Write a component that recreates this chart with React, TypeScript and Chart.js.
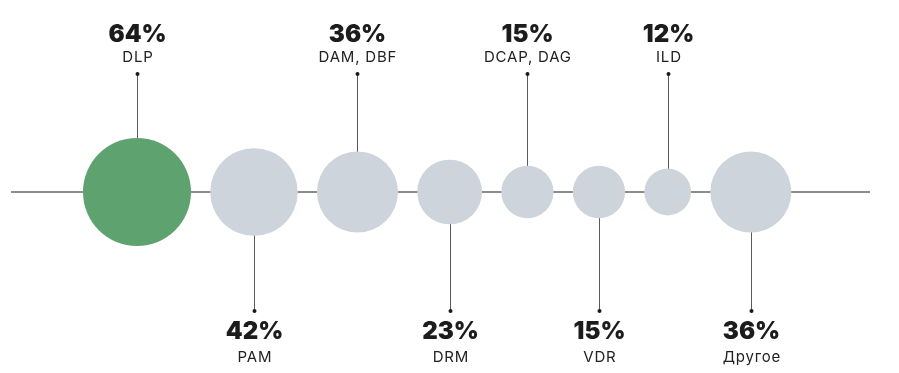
import React, { useEffect, useRef } from "react";
import { Chart, registerables } from "chart.js";

Chart.register(...registerables);

const categories = ["DLP", "PAM", "DAM, DBF", "DRM", "DCAP, DAG", "VDR", "ILD", "Другое"];
const shares = [64, 42, 36, 23, 15, 15, 12, 36];
const highlighted = ["DLP"];

const W = 899;
const H = 373;
const AXIS_Y = 192; // pixel row of the baseline
const RADIUS_K = 6.75;
const GAP = 19.25;
const FIRST_LEFT = 83;
const LINE_START = 11;
const LINE_END = 870;

const GREEN = "#5ea26f";
const GRAY = "#cdd4dc";
const LINE = "#5a5a5a";

const radii = shares.map((v) => RADIUS_K * Math.sqrt(v));
const xs: number[] = [];
radii.forEach((r, i) => {
  if (i === 0) xs.push(FIRST_LEFT + r);
  else xs.push(xs[i - 1] + radii[i - 1] + GAP + r);
});

const labelPlugin = {
  id: "bubbleLabels",
  beforeDatasetsDraw(chart: any) {
    const { ctx, scales } = chart;
    const y0 = scales.y.getPixelForValue(0);
    ctx.save();
    ctx.strokeStyle = "#666666";
    ctx.lineWidth = 1.4;
    ctx.beginPath();
    ctx.moveTo(scales.x.getPixelForValue(LINE_START), y0);
    ctx.lineTo(scales.x.getPixelForValue(LINE_END), y0);
    ctx.stroke();

    const meta = chart.getDatasetMeta(0);
    meta.data.forEach((el: any, i: number) => {
      const top = i % 2 === 0;
      const x = Math.round(el.x) + 0.5;
      const dotY = top ? 74 : 311;
      ctx.strokeStyle = LINE;
      ctx.lineWidth = 1;
      ctx.beginPath();
      ctx.moveTo(x, dotY);
      ctx.lineTo(x, el.y);
      ctx.stroke();
      ctx.fillStyle = "#1a1a1a";
      ctx.beginPath();
      ctx.arc(x, dotY, 2, 0, Math.PI * 2);
      ctx.fill();

      ctx.textAlign = "center";
      ctx.textBaseline = "alphabetic";
      ctx.fillStyle = "#1c1c1c";
      ctx.font = "900 24px Inter";
      (ctx as any).letterSpacing = "0px";
      ctx.fillText(shares[i] + "%", x, top ? 42 : 339);
      ctx.fillStyle = "#222222";
      ctx.font = "400 15px Inter";
      (ctx as any).letterSpacing = "0.8px";
      ctx.fillText(categories[i], x + 0.4, top ? 62 : 362);
      (ctx as any).letterSpacing = "0px";
    });
    ctx.restore();
  },
};

export default function App() {
  const ref = useRef<HTMLCanvasElement>(null);
  useEffect(() => {
    if (!ref.current) return;
    const chart = new Chart(ref.current, {
      type: "bubble",
      data: {
        datasets: [
          {
            data: shares.map((v, i) => ({ x: xs[i], y: 0, r: radii[i] })),
            backgroundColor: categories.map((c) => (highlighted.includes(c) ? GREEN : GRAY)),
            borderWidth: 0,
            hoverBorderWidth: 0,
          },
        ],
      },
      options: {
        animation: false,
        responsive: false,
        events: [],
        layout: { padding: 0, autoPadding: false },
        plugins: { legend: { display: false }, tooltip: { enabled: false } },
        scales: {
          x: { type: "linear", display: false, min: 0, max: W },
          y: { type: "linear", display: false, min: AXIS_Y - H, max: AXIS_Y },
        },
      },
      plugins: [labelPlugin],
    });
    return () => chart.destroy();
  }, []);
  return (
    <div style={{ position: "fixed", left: 0, top: 0, width: W, height: H, background: "#fff" }}>
      <canvas ref={ref} width={W} height={H} />
    </div>
  );
}
